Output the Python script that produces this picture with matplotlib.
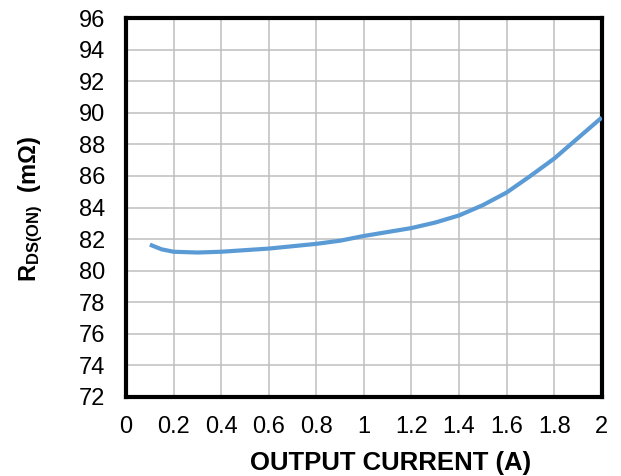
import matplotlib
matplotlib.use('Agg')
import matplotlib.pyplot as plt

# font setup
plt.rcParams['font.family'] = ['Liberation Sans', 'DejaVu Sans']
plt.rcParams['mathtext.fontset'] = 'custom'
plt.rcParams['mathtext.rm'] = 'Liberation Sans'
plt.rcParams['mathtext.bf'] = 'Liberation Sans:bold'

# data
current = [0.1, 0.15, 0.2, 0.3, 0.4, 0.5, 0.6, 0.7, 0.8, 0.9, 1.0,
           1.1, 1.2, 1.3, 1.4, 1.5, 1.6, 1.7, 1.8, 1.9, 2.0]
rds_on = [81.65, 81.35, 81.2, 81.15, 81.2, 81.3, 81.4, 81.55, 81.7, 81.9, 82.2,
          82.45, 82.7, 83.05, 83.5, 84.15, 84.95, 86.0, 87.1, 88.4, 89.7]

x_ticks = [0, 0.2, 0.4, 0.6, 0.8, 1.0, 1.2, 1.4, 1.6, 1.8, 2.0]
x_labels = ['0', '0.2', '0.4', '0.6', '0.8', '1', '1.2', '1.4', '1.6', '1.8', '2']
y_ticks = list(range(72, 97, 2))

fig = plt.figure(figsize=(6.21, 4.76), dpi=100)
ax = fig.add_axes([0.203, 0.166, 0.766, 0.796])

ax.plot(current, rds_on, color='#5b9bd5', linewidth=3, solid_capstyle='butt', zorder=3)

ax.set_xlim(0, 2)
ax.set_ylim(72, 96)
ax.set_xticks(x_ticks)
ax.set_xticklabels(x_labels)
ax.set_yticks(y_ticks)
ax.tick_params(length=0, labelsize=17, pad=15)
ax.tick_params(axis='x', pad=14)

ax.grid(True, color='#bfbfbf', linewidth=1.1)
ax.set_axisbelow(True)
for s in ax.spines.values():
    s.set_linewidth(3)
    s.set_color('black')

ax.set_xlabel('OUTPUT CURRENT (A)', fontsize=18.5, fontweight='bold')
ax.xaxis.set_label_coords(0.555, -0.143)
ax.set_ylabel(r'$\mathbf{R_{DS(ON)}}$  (m$\mathbf{\Omega}$)', fontsize=17,
              fontweight='bold')
ax.yaxis.set_label_coords(-0.17, 0.496)

fig.savefig('out.png', dpi=100)
